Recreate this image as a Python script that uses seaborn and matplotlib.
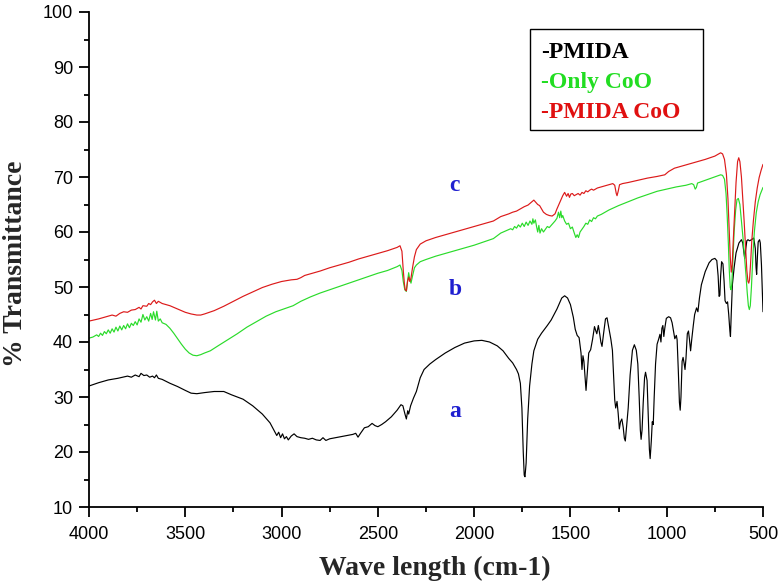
import matplotlib
matplotlib.use("Agg")
import matplotlib.pyplot as plt
import seaborn as sns
import pandas as pd
from matplotlib.lines import Line2D
from matplotlib.patches import Rectangle

# ---------------- data ----------------
series_names = ["PMIDA", "Only CoO", "PMIDA CoO"]
legend_labels = ["-PMIDA", "-Only CoO", "-PMIDA CoO"]
curve_tags = ["a", "b", "c"]
tag_positions = [27.3, 49.5, 68.4]   # transmittance where the tags sit
tag_wavenumber = 2100

pmida_wn = [4000, 3950, 3900, 3850, 3800, 3780, 3760, 3740, 3730, 3715, 3700, 3685, 3670, 3660, 3650, 3640,
            3620, 3580, 3540, 3500, 3470, 3440, 3400, 3350, 3300, 3260, 3200, 3150, 3100, 3060, 3040, 3025,
            3015, 3005, 2995, 2985, 2975, 2965, 2950, 2935, 2920, 2900, 2880, 2860, 2840, 2820, 2800, 2785,
            2770, 2750, 2720, 2690, 2660, 2630, 2615, 2603, 2590, 2570, 2550, 2530, 2515, 2500, 2480, 2460,
            2430, 2400, 2380, 2370, 2360, 2352, 2345, 2340, 2330, 2315, 2300, 2280, 2260, 2230, 2200, 2150,
            2100, 2050, 2000, 1960, 1920, 1880, 1850, 1820, 1800, 1780, 1770, 1760, 1752, 1745, 1740, 1736,
            1730, 1722, 1712, 1700, 1690, 1670, 1650, 1620, 1600, 1570, 1545, 1530, 1515, 1500, 1485, 1475,
            1465, 1455, 1445, 1440, 1435, 1430, 1425, 1419, 1412, 1405, 1395, 1385, 1375, 1368, 1363, 1355,
            1348, 1342, 1336, 1328, 1318, 1310, 1300, 1290, 1282, 1275, 1270, 1265, 1258, 1252, 1246, 1240,
            1233, 1226, 1220, 1215, 1210, 1200, 1190, 1178, 1168, 1158, 1150, 1143, 1137, 1133, 1128, 1122,
            1115, 1110, 1102, 1096, 1090, 1086, 1080, 1075, 1070, 1065, 1058, 1050, 1042, 1035, 1030, 1025,
            1020, 1015, 1010, 1002, 990, 980, 972, 965, 958, 950, 946, 940, 934, 930, 926, 920, 915, 910,
            905, 900, 893, 887, 882, 876, 870, 862, 855, 845, 838, 830, 820, 800, 780, 765, 750, 740, 733,
            728, 724, 720, 715, 708, 702, 697, 690, 684, 678, 672, 669, 665, 659, 650, 640, 625, 612, 605,
            600, 595, 590, 584, 578, 570, 560, 548, 540, 536, 533, 529, 525, 518, 514, 508, 503, 500]
pmida_t = [32.0, 32.6, 33.1, 33.4, 33.8, 33.6, 34.0, 33.7, 34.3, 33.9, 34.0, 33.6, 33.8, 33.5, 34.0, 33.4,
           33.2, 32.5, 31.9, 31.2, 30.7, 30.6, 30.8, 31.0, 31.0, 30.4, 29.6, 28.4, 26.9, 25.3, 24.0, 23.0,
           23.6, 22.6, 23.3, 22.4, 22.8, 22.2, 22.9, 23.3, 22.8, 22.6, 22.5, 22.3, 22.5, 22.2, 22.1, 22.6,
           22.1, 22.4, 22.6, 22.8, 23.0, 23.2, 23.4, 22.7, 23.4, 24.4, 24.6, 25.2, 24.8, 24.6, 25.0, 25.5,
           26.4, 27.6, 28.6, 28.4, 27.0, 26.0, 27.5, 26.9, 28.4, 29.8, 31.0, 33.5, 35.0, 36.0, 36.8, 38.0,
           39.0, 39.8, 40.2, 40.3, 40.0, 39.3, 38.4, 37.0, 36.2, 35.0, 34.2, 32.5, 28.0, 20.0, 15.8, 15.5,
           18.0, 26.0, 32.0, 36.0, 38.4, 40.5, 41.6, 43.0, 44.0, 46.0, 48.0, 48.4, 48.0, 46.8, 44.5, 42.3,
           41.2, 40.8, 38.0, 35.0, 37.5, 36.5, 34.0, 31.2, 34.5, 38.0, 38.6, 40.5, 42.8, 42.0, 41.5, 43.0,
           41.5, 40.0, 39.2, 41.5, 44.2, 44.4, 42.5, 40.5, 38.5, 33.0, 29.5, 28.0, 29.2, 27.0, 24.2, 25.5,
           26.0, 24.5, 22.5, 22.0, 24.0, 28.0, 34.0, 38.5, 39.5, 38.5, 36.0, 30.0, 24.0, 22.3, 24.0, 29.0,
           33.5, 34.5, 33.0, 27.0, 20.5, 18.8, 22.0, 25.5, 25.0, 30.0, 36.0, 39.6, 40.5, 41.4, 40.0, 42.5,
           43.0, 41.0, 42.5, 44.3, 44.6, 44.4, 43.5, 42.0, 40.6, 41.2, 40.4, 35.0, 29.0, 27.6, 30.0, 36.5, 37.2, 36.2,
           35.0, 37.0, 41.5, 42.0, 40.5, 38.4, 40.5, 43.0, 45.0, 46.2, 45.5, 48.0, 50.4, 52.8, 54.4, 55.0, 55.2, 54.8, 52.0,
           48.3, 48.5, 52.0, 54.6, 54.2, 51.0, 47.5, 47.0, 47.3, 45.0, 42.0, 41.0, 45.0, 50.4, 53.5, 56.2, 58.0, 58.6, 58.0,
           56.5, 55.2, 56.8, 58.4, 58.6, 58.4, 58.6, 58.9, 57.0, 53.5, 52.3, 55.5, 58.2, 58.6, 58.0, 54.0, 48.5, 45.5]

coo_wn = [4000, 3980, 3960, 3950, 3940, 3930, 3920, 3910, 3900, 3890, 3880, 3870, 3860, 3850, 3840, 3830,
          3820, 3810, 3800, 3790, 3780, 3770, 3760, 3750, 3740, 3730, 3720, 3710, 3700, 3690, 3680, 3672,
          3665, 3655, 3648, 3640, 3630, 3620, 3600, 3580, 3560, 3540, 3520, 3500, 3480, 3460, 3440, 3420,
          3400, 3370, 3330, 3280, 3230, 3180, 3130, 3080, 3030, 2980, 2940, 2920, 2900, 2850, 2800, 2750,
          2700, 2650, 2600, 2550, 2500, 2450, 2400, 2385, 2375, 2368, 2360, 2352, 2346, 2340, 2335, 2328,
          2320, 2310, 2300, 2280, 2250, 2200, 2100, 2000, 1900, 1862, 1830, 1810, 1800, 1790, 1780, 1770,
          1760, 1750, 1740, 1730, 1720, 1710, 1700, 1695, 1690, 1682, 1676, 1670, 1664, 1658, 1650, 1640,
          1630, 1620, 1610, 1600, 1590, 1580, 1570, 1562, 1556, 1550, 1545, 1540, 1530, 1520, 1510, 1500,
          1490, 1480, 1472, 1465, 1458, 1450, 1440, 1430, 1420, 1410, 1400, 1390, 1380, 1370, 1360, 1340,
          1320, 1300, 1250, 1200, 1150, 1100, 1050, 1000, 950, 900, 870, 860, 852, 846, 840, 800, 760, 720,
          710, 700, 692, 686, 680, 675, 670, 666, 662, 656, 650, 642, 635, 628, 620, 612, 604, 596, 588,
          582, 576, 571, 566, 560, 552, 545, 535, 525, 515, 500]
coo_t = [40.7, 40.9, 41.3, 41.0, 41.6, 41.2, 41.9, 41.5, 42.2, 41.6, 42.4, 41.8, 42.7, 42.0, 42.9, 42.2,
         43.0, 42.4, 43.3, 42.6, 43.4, 43.0, 43.7, 43.1, 44.2, 43.6, 45.0, 44.0, 44.6, 43.8, 45.2, 44.1,
         45.5, 44.0, 45.6, 43.8, 44.2, 43.5, 43.2, 42.5, 41.6, 40.6, 39.6, 38.7, 38.0, 37.6, 37.5, 37.7,
         38.0, 38.4, 39.3, 40.4, 41.5, 42.7, 43.7, 44.7, 45.5, 46.1, 46.6, 47.0, 47.4, 48.2, 48.9, 49.5,
         50.1, 50.7, 51.3, 51.9, 52.5, 53.0, 53.7, 54.0, 53.0, 51.0, 49.5, 49.2, 51.0, 52.6, 51.5, 50.7,
         52.0, 53.5, 54.0, 54.6, 55.0, 55.6, 56.6, 57.6, 58.8, 59.8, 60.3, 60.6, 60.4, 61.0, 60.7, 61.3,
         60.9, 61.6, 61.0, 61.8, 61.2, 62.0, 61.4, 62.4, 61.6, 62.2, 61.0, 60.0, 61.2, 59.8, 60.6, 60.0,
         60.5, 61.0, 60.8, 61.2, 61.6, 62.0, 62.5, 63.6, 62.6, 63.8, 62.6, 63.0, 62.0, 61.4, 61.6, 60.6,
         60.9, 59.8, 59.0, 59.5, 59.0, 60.0, 60.5, 61.0, 61.6, 61.4, 62.2, 61.9, 62.6, 62.4, 62.9, 63.2,
         63.6, 64.0, 64.8, 65.5, 66.2, 66.8, 67.4, 67.8, 68.2, 68.5, 68.8, 68.6, 67.8, 68.1, 68.9, 69.4, 69.9, 70.4,
         70.3, 69.6, 67.0, 63.0, 58.0, 53.0, 49.9, 49.5, 50.5, 55.0, 60.0, 64.0, 65.9, 66.1, 65.0, 62.0, 59.0, 55.5, 52.0,
         49.0, 46.6, 45.9, 46.6, 50.0, 56.0, 60.0, 63.5, 65.5, 66.8, 68.1]

pmida_coo_wn = [4000, 3950, 3900, 3880, 3860, 3840, 3820, 3800, 3780, 3760, 3740, 3730, 3720, 3700, 3690,
                3680, 3670, 3660, 3650, 3640, 3620, 3600, 3580, 3560, 3540, 3520, 3500, 3470, 3440, 3420,
                3400, 3350, 3300, 3250, 3200, 3150, 3100, 3050, 3000, 2950, 2920, 2900, 2880, 2850, 2800,
                2750, 2700, 2650, 2600, 2550, 2500, 2450, 2400, 2385, 2375, 2368, 2362, 2358, 2352, 2346,
                2340, 2334, 2328, 2320, 2310, 2300, 2280, 2250, 2200, 2100, 2000, 1900, 1862, 1820, 1800,
                1780, 1760, 1740, 1720, 1710, 1700, 1690, 1680, 1670, 1660, 1650, 1640, 1625, 1610, 1595,
                1580, 1570, 1560, 1550, 1540, 1530, 1520, 1512, 1505, 1498, 1490, 1480, 1470, 1460, 1450,
                1440, 1430, 1420, 1410, 1400, 1390, 1380, 1360, 1340, 1320, 1300, 1280, 1270, 1262, 1258,
                1252, 1245, 1230, 1200, 1150, 1100, 1050, 1010, 990, 960, 900, 850, 800, 750, 720, 710, 700,
                690, 682, 675, 670, 665, 660, 655, 648, 640, 632, 626, 620, 612, 605, 598, 590, 584, 578,
                574, 570, 565, 558, 550, 540, 530, 520, 510, 500]
pmida_coo_t = [43.8, 44.2, 44.7, 44.9, 44.7, 45.2, 45.5, 45.4, 45.8, 45.9, 46.3, 46.0, 46.6, 46.5, 47.0,
               46.8, 47.3, 47.6, 47.0, 47.4, 47.0, 46.8, 46.6, 46.3, 46.0, 45.7, 45.4, 45.1, 44.9, 44.9,
               45.1, 45.7, 46.5, 47.4, 48.3, 49.1, 49.9, 50.5, 51.0, 51.3, 51.4, 51.7, 52.1, 52.4, 52.9,
               53.5, 54.0, 54.5, 55.1, 55.6, 56.1, 56.6, 57.2, 57.5, 56.5, 53.0, 50.5, 49.5, 49.3, 51.0,
               51.8, 51.0, 51.6, 53.5, 55.5, 56.8, 57.8, 58.4, 59.0, 60.0, 61.0, 62.0, 62.8, 63.3, 63.6,
               63.8, 64.2, 64.6, 64.9, 65.2, 65.5, 65.8, 65.4, 65.0, 64.8, 64.2, 63.6, 63.2, 63.0, 62.9,
               63.3, 64.2, 65.0, 65.8, 66.6, 67.2, 66.5, 67.0, 66.3, 66.9, 67.0, 66.6, 66.8, 67.0, 66.7,
               67.2, 67.0, 67.5, 67.3, 67.6, 67.8, 67.6, 68.0, 68.2, 68.4, 68.6, 68.8, 68.5, 67.0, 66.6,
               67.4, 68.6, 68.8, 69.0, 69.4, 69.8, 70.1, 70.4, 71.0, 71.6, 72.2, 72.7, 73.2, 73.8, 74.4, 74.2, 73.2,
               70.5, 66.0, 60.0, 55.5, 52.7, 54.0, 58.0, 63.0, 69.0, 72.8, 73.5, 72.8, 70.0, 66.0, 62.0, 57.0, 53.0, 51.0,
               50.7, 51.3, 54.0, 58.5, 62.0, 65.5, 68.0, 69.9, 71.2, 72.3]

series_wn = [pmida_wn, coo_wn, pmida_coo_wn]
series_t = [pmida_t, coo_t, pmida_coo_t]
line_colors = ["#000000", "#2adb2a", "#dc1a1a"]
legend_colors = ["#000000", "#22dd22", "#e01010"]

x_ticks = [4000, 3500, 3000, 2500, 2000, 1500, 1000, 500]
y_ticks = [10, 20, 30, 40, 50, 60, 70, 80, 90, 100]

# ---------------- drawing ----------------
sns.set_theme(style="ticks")
plt.rcParams["font.family"] = ["Liberation Sans", "DejaVu Sans"]

W, H = 780, 583
fig = plt.figure(figsize=(W / 100, H / 100), dpi=100)
ax = fig.add_axes([89 / W, 1 - 507 / H, (763 - 89) / W, (507 - 12) / H])

for name, wn, t, col in zip(series_names, series_wn, series_t, line_colors):
    df = pd.DataFrame({"wavenumber": wn, "transmittance": t})
    sns.lineplot(data=df, x="wavenumber", y="transmittance", ax=ax, color=col,
                 linewidth=0.85, estimator=None, sort=False, label=name)

ax.set_xlim(4000, 500)
ax.set_ylim(10, 100)
ax.set_xticks(x_ticks)
ax.set_xticklabels([str(v) for v in x_ticks])
ax.set_yticks(y_ticks)
ax.set_yticklabels([str(v) for v in y_ticks])
ax.set_xticks([v + 250 for v in x_ticks[1:]], minor=True)
ax.set_yticks([v + 5 for v in y_ticks[:-1]], minor=True)

sns.despine(ax=ax)
for s in ["left", "bottom"]:
    ax.spines[s].set_linewidth(1.3)
    ax.spines[s].set_color("black")
ax.tick_params(axis="both", which="major", direction="out", length=7.5, width=1.3,
               color="black", labelsize=13, labelcolor="black")
ax.tick_params(axis="both", which="minor", direction="out", length=3.8, width=1.3, color="black")
ax.tick_params(axis="x", which="major", pad=6.5)
ax.tick_params(axis="y", which="major", pad=4)

label_font = dict(family=["Liberation Serif", "DejaVu Serif"], weight="bold", size=20)
ax.set_xlabel("Wave length (cm-1)", **label_font)
ax.set_ylabel("% Transmittance", **label_font)
ax.xaxis.set_label_coords(0.513, -0.099)
ax.yaxis.set_label_coords(-0.090, 0.491)

for tag, yv in zip(curve_tags, tag_positions):
    ax.text(tag_wavenumber, yv, tag, color="#1f1fd0", ha="center", va="center",
            family=["Liberation Serif", "DejaVu Serif"], weight="bold", fontsize=17)

# legend: coloured labels, no handles, inside a plain black box
handles = [Line2D([], [], color=c, linewidth=0) for c in legend_colors]
leg = ax.legend(handles, legend_labels, loc="upper left",
                bbox_to_anchor=(530 / W, 1 - 31 / H), bbox_transform=fig.transFigure,
                handlelength=0, handletextpad=0, borderaxespad=0, borderpad=0.45,
                labelspacing=0.35, frameon=False, labelcolor=legend_colors,
                prop=dict(family=["Liberation Serif", "DejaVu Serif"], weight="bold", size=17))
leg.set_zorder(6)
box = Rectangle((530 / W, 1 - 130 / H), 173 / W, 101 / H, transform=fig.transFigure,
                facecolor="white", edgecolor="black", linewidth=1.0, clip_on=False, zorder=5)
ax.add_patch(box)

ax.set_facecolor("white")
fig.patch.set_facecolor("white")
fig.savefig("out.png", dpi=100, facecolor="white")
